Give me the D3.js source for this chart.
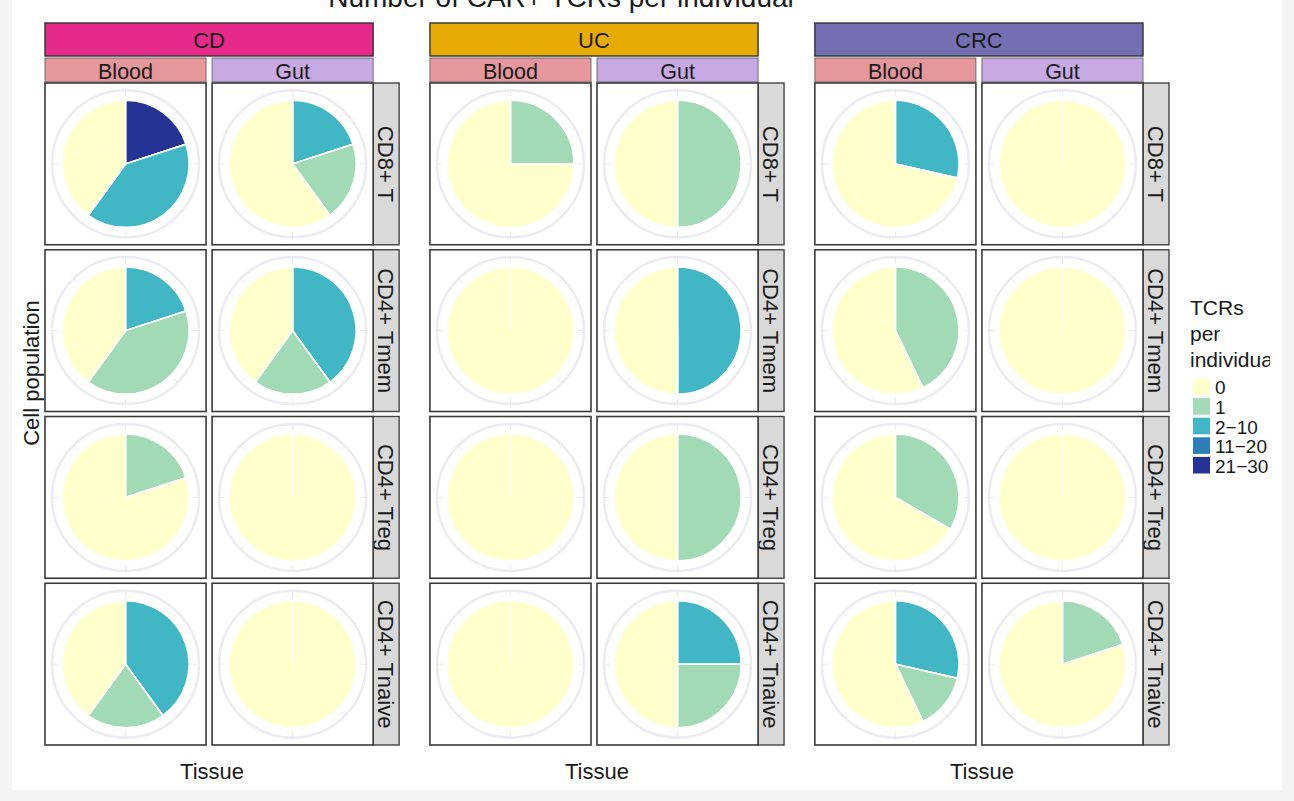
<!DOCTYPE html>
<html>
<head>
<meta charset="utf-8">
<script src="https://cdn.jsdelivr.net/npm/d3@7"></script>
<style>
  body { margin: 0; background: #f4f4f4; }
  svg { display: block; font-family: "Liberation Sans", Arial, sans-serif; }
</style>
</head>
<body>
<svg id="chart" width="1294" height="801"></svg>
<script>
// facets and categories
var diseases = ["CD", "UC", "CRC"];
var tissues = ["Blood", "Gut"];
var cellPops = ["CD8+ T", "CD4+ Tmem", "CD4+ Treg", "CD4+ Tnaive"];
var tcrLevels = ["0", "1", "2\u221210", "11\u221220", "21\u221230"];

// number of individuals in each TCR class, [cell population][tissue] -> counts per tcrLevels
var cdCounts = [
  [[2, 0, 2, 0, 1], [3, 1, 1, 0, 0]],
  [[2, 2, 1, 0, 0], [2, 1, 2, 0, 0]],
  [[4, 1, 0, 0, 0], [5, 0, 0, 0, 0]],
  [[2, 1, 2, 0, 0], [5, 0, 0, 0, 0]]
];
var ucCounts = [
  [[3, 1, 0, 0, 0], [2, 2, 0, 0, 0]],
  [[4, 0, 0, 0, 0], [2, 0, 2, 0, 0]],
  [[4, 0, 0, 0, 0], [2, 2, 0, 0, 0]],
  [[4, 0, 0, 0, 0], [2, 1, 1, 0, 0]]
];
var crcCounts = [
  [[5, 0, 2, 0, 0], [5, 0, 0, 0, 0]],
  [[4, 3, 0, 0, 0], [5, 0, 0, 0, 0]],
  [[4, 2, 0, 0, 0], [5, 0, 0, 0, 0]],
  [[4, 1, 2, 0, 0], [4, 1, 0, 0, 0]]
];

var diseaseColors = ["#e7298a", "#e6ab02", "#7570b3"];
var tissueColors = ["#e5979c", "#c7a9e4"];
var levelColors = ["#ffffcc", "#a1dab4", "#41b6c4", "#2c7fb8", "#253494"];

var countsBy = { CD: cdCounts, UC: ucCounts, CRC: crcCounts };

var svg = d3.select("#chart");

svg.append("rect")
  .attr("x", 12).attr("y", 0)
  .attr("width", 1270).attr("height", 790)
  .attr("fill", "#ffffff");

var stripW = 26;

var xGroup = d3.scaleBand().domain(diseases).range([45, 1169]).paddingInner(0.08);
var panelsW = xGroup.bandwidth() - stripW;
var xTissue = d3.scaleBand().domain(tissues).range([0, panelsW]).paddingInner(0.036);
var yRow = d3.scaleBand().domain(cellPops).range([83, 745]).paddingInner(0.03);

var diseaseColor = d3.scaleOrdinal(diseases, diseaseColors);
var tissueColor = d3.scaleOrdinal(tissues, tissueColors);
var fill = d3.scaleOrdinal(tcrLevels, levelColors);

var pieR = 63.5, gridR = 73.5;

// stacked bars in polar coords: highest class first, clockwise from 12 o'clock
var pie = d3.pie()
  .sort(null)
  .value(function(d) { return d.n; });
var arc = d3.arc().innerRadius(0).outerRadius(pieR);

// title (partly cut off at the top edge)
svg.append("text")
  .attr("x", 561).attr("y", 7)
  .attr("text-anchor", "middle")
  .attr("font-size", 28)
  .attr("fill", "#1a1a1a")
  .text("Number of CAR+ TCRs per individual");

diseases.forEach(function(dis, di) {
  var g = svg.append("g").attr("transform", "translate(" + xGroup(dis) + ",0)");

  // disease strip
  g.append("rect")
    .attr("x", 0).attr("y", 23)
    .attr("width", panelsW).attr("height", 33)
    .attr("fill", diseaseColor(dis))
    .attr("stroke", "#333").attr("stroke-width", 1.4);
  g.append("text")
    .attr("x", panelsW / 2).attr("y", 40)
    .attr("dy", "0.35em")
    .attr("text-anchor", "middle")
    .attr("font-size", 22)
    .attr("fill", "#1a1a1a")
    .text(dis);

  // tissue strips
  tissues.forEach(function(t) {
    g.append("rect")
      .attr("x", xTissue(t)).attr("y", 58)
      .attr("width", xTissue.bandwidth()).attr("height", 24)
      .attr("fill", tissueColor(t))
      .attr("stroke", "#555").attr("stroke-width", 0.8);
    g.append("text")
      .attr("x", xTissue(t) + xTissue.bandwidth() / 2).attr("y", 71)
      .attr("dy", "0.35em")
      .attr("text-anchor", "middle")
      .attr("font-size", 21.5)
      .attr("fill", "#1a1a1a")
      .text(t);
  });

  cellPops.forEach(function(cp, ci) {
    // row strip on the right
    g.append("rect")
      .attr("x", panelsW).attr("y", yRow(cp))
      .attr("width", stripW).attr("height", yRow.bandwidth())
      .attr("fill", "#d9d9d9")
      .attr("stroke", "#444").attr("stroke-width", 1.4);
    g.append("text")
      .attr("transform", "translate(" + (panelsW + stripW / 2) + "," + (yRow(cp) + yRow.bandwidth() / 2) + ") rotate(90)")
      .attr("dy", "0.35em")
      .attr("text-anchor", "middle")
      .attr("font-size", 22)
      .attr("fill", "#1a1a1a")
      .text(cp);

    tissues.forEach(function(t, ti) {
      var px = xTissue(t), py = yRow(cp);
      var w = xTissue.bandwidth(), h = yRow.bandwidth();
      var cx = px + w / 2, cy = py + h / 2;

      g.append("rect")
        .attr("x", px).attr("y", py)
        .attr("width", w).attr("height", h)
        .attr("fill", "#ffffff")
        .attr("stroke", "#3a3a3a").attr("stroke-width", 1.6);

      var pg = g.append("g").attr("transform", "translate(" + cx + "," + cy + ")");

      // polar grid
      pg.append("circle")
        .attr("r", gridR)
        .attr("fill", "none")
        .attr("stroke", "#ebebf2").attr("stroke-width", 2.5);
      d3.range(8).forEach(function(k) {
        var a = k * Math.PI / 4;
        pg.append("line")
          .attr("x1", Math.sin(a) * (gridR - 6)).attr("y1", -Math.cos(a) * (gridR - 6))
          .attr("x2", Math.sin(a) * gridR).attr("y2", -Math.cos(a) * gridR)
          .attr("stroke", "#ebe6ee").attr("stroke-width", 1);
      });

      var counts = countsBy[dis][ci][ti];
      var slices = tcrLevels.map(function(l, li) { return { level: l, n: counts[li] }; }).reverse();
      var arcs = pie(slices);

      pg.selectAll("path.slice")
        .data(arcs)
        .enter().append("path")
        .attr("class", "slice")
        .attr("d", arc)
        .attr("fill", function(d) { return fill(d.data.level); })
        .attr("stroke", "#ffffff")
        .attr("stroke-width", 1.5)
        .attr("stroke-linejoin", "round");

      // white radial edges at each slice start (also the 12 o'clock seam of full pies)
      pg.selectAll("line.edge")
        .data(arcs.filter(function(d) { return d.value > 0; }))
        .enter().append("line")
        .attr("class", "edge")
        .attr("x1", 0).attr("y1", 0)
        .attr("x2", function(d) { return Math.sin(d.startAngle) * pieR; })
        .attr("y2", function(d) { return -Math.cos(d.startAngle) * pieR; })
        .attr("stroke", "#ffffff")
        .attr("stroke-width", 1.5);
    });
  });

  // x axis title
  g.append("text")
    .attr("x", panelsW / 2 + 3).attr("y", 771)
    .attr("dy", "0.35em")
    .attr("text-anchor", "middle")
    .attr("font-size", 22)
    .attr("fill", "#1a1a1a")
    .text("Tissue");
});

// y axis title
svg.append("text")
  .attr("transform", "translate(31,373) rotate(-90)")
  .attr("dy", "0.35em")
  .attr("text-anchor", "middle")
  .attr("font-size", 22)
  .attr("fill", "#1a1a1a")
  .text("Cell population");

// legend, clipped at the right like the source
svg.append("clipPath").attr("id", "legclip")
  .append("rect").attr("x", 1180).attr("y", 280).attr("width", 90).attr("height", 220);

var leg = svg.append("g").attr("clip-path", "url(#legclip)");
["TCRs", "per", "individual"].forEach(function(s, i) {
  leg.append("text")
    .attr("x", 1190).attr("y", 315 + i * 26)
    .attr("font-size", 21)
    .attr("fill", "#1a1a1a")
    .text(s);
});

var yLeg = d3.scaleBand().domain(tcrLevels).range([377, 475]).paddingInner(0);
tcrLevels.forEach(function(l) {
  leg.append("rect")
    .attr("x", 1193).attr("y", yLeg(l) + 1.5)
    .attr("width", 17).attr("height", yLeg.bandwidth() - 3)
    .attr("fill", fill(l));
  leg.append("text")
    .attr("x", 1215).attr("y", yLeg(l) + yLeg.bandwidth() / 2 + 1)
    .attr("dy", "0.35em")
    .attr("font-size", 19)
    .attr("fill", "#1a1a1a")
    .text(l);
});
</script>
</body>
</html>
